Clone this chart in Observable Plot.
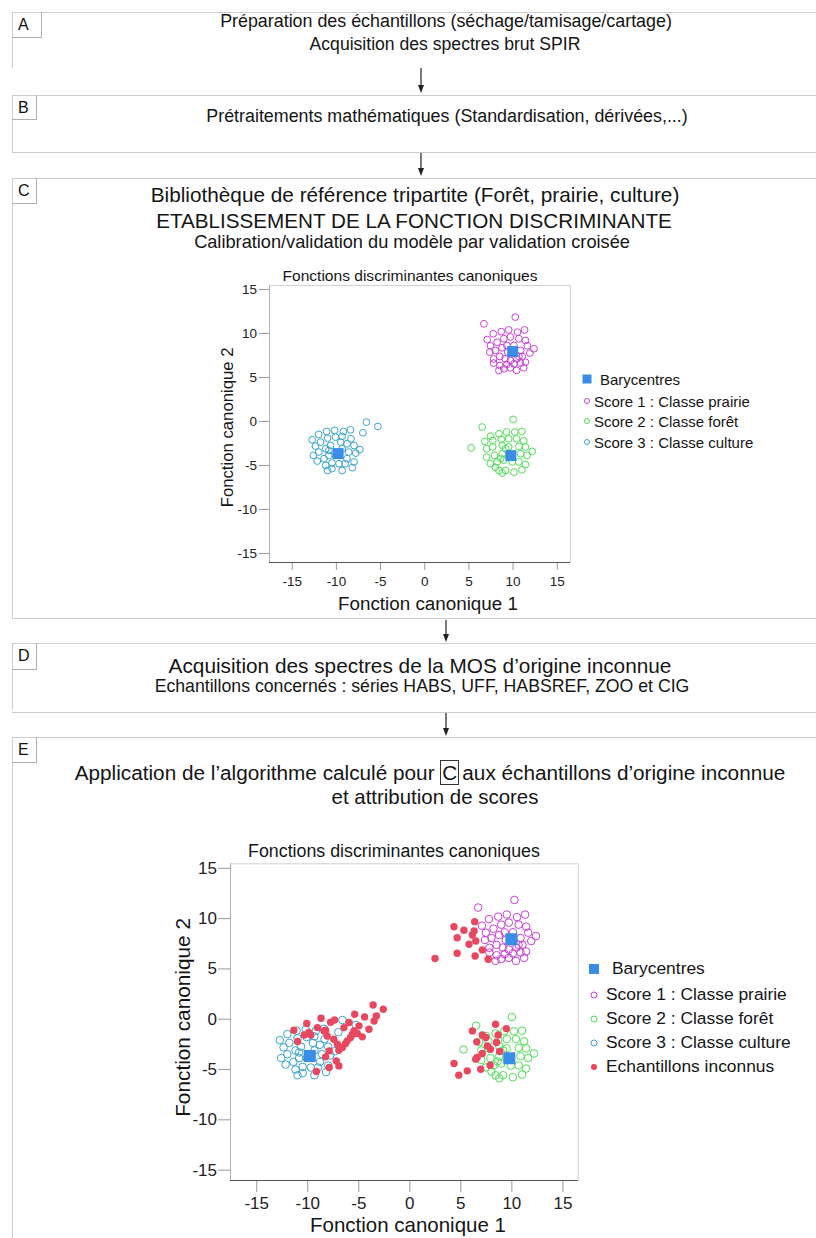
<!DOCTYPE html>
<html><head><meta charset="utf-8">
<script src="https://cdn.jsdelivr.net/npm/d3@7"></script>
<script src="https://cdn.jsdelivr.net/npm/@observablehq/plot@0.6"></script>
<style>
body{margin:0;background:#fff;font-family:"Liberation Sans",Arial,sans-serif;}
#page{position:relative;width:816px;height:1238px;overflow:hidden;background:#fff;}
.hl{position:absolute;height:0;border-top:1.5px solid #cdcdcd;}
.vl{position:absolute;width:0;border-left:1.5px solid #cdcdcd;}
.lab{position:absolute;box-sizing:border-box;border-right:1px solid #b0b0b0;border-bottom:1px solid #b0b0b0;color:#111;font-size:16px;line-height:1;}
.txt{position:absolute;white-space:nowrap;line-height:1;color:#151515;}
.boxc{border:1px solid #333;padding:0 1px;margin-right:3px;}
</style></head><body><div id="page"></div><script>
// ---------- DATA ----------
const prairie = [[6.7,11.1],[10.25,11.86],[7.07,9.3],[7.75,9.96],[8.66,10.2],[9.5,10.4],[10.5,10.15],[11.3,10.4],[7.45,8.6],[8.2,9.0],[8.96,9.4],[9.7,9.6],[10.66,9.4],[11.4,9.2],[11.6,8.6],[12.36,8.26],[7.37,7.88],[8.0,8.07],[8.75,8.37],[9.3,8.64],[10.85,8.07],[11.04,7.39],[11.9,7.77],[7.8,7.1],[8.5,7.39],[9.1,7.12],[9.7,6.93],[10.45,7.12],[11.4,6.74],[7.8,6.63],[8.5,6.36],[9.3,6.48],[10.1,6.55],[10.85,6.63],[8.96,5.98],[9.7,6.1],[10.4,5.8],[11.2,6.1],[8.4,5.8],[10.66,7.39],[10.1,8.64],[9.4,7.88]];
const foret = [[6.5,-0.64],[10.0,0.23],[5.26,-3.0],[7.45,-1.67],[8.4,-1.4],[9.26,-1.2],[10.2,-1.2],[11.0,-1.14],[6.8,-2.27],[7.7,-2.16],[8.66,-2.05],[9.5,-1.97],[10.4,-1.97],[11.2,-2.2],[7.0,-3.1],[7.7,-2.9],[8.77,-2.7],[9.5,-2.9],[10.66,-2.84],[11.4,-2.9],[12.17,-3.4],[7.0,-4.05],[7.9,-3.86],[8.77,-3.67],[10.85,-3.67],[11.6,-3.86],[7.45,-4.8],[8.2,-4.6],[8.96,-4.4],[9.9,-4.6],[10.66,-4.6],[11.4,-4.9],[8.4,-5.57],[9.15,-5.57],[10.1,-5.76],[11.0,-5.5],[8.77,-5.87],[8.0,-5.2],[9.15,-3.1],[8.6,-4.2]];
const culture = [[-6.6,-0.08],[-5.3,-0.57],[-7.0,-1.29],[-12.74,-2.08],[-12.0,-1.48],[-11.1,-1.14],[-10.2,-1.02],[-9.2,-1.14],[-8.4,-0.95],[-12.37,-2.8],[-11.8,-2.35],[-11.0,-1.9],[-10.1,-1.78],[-9.35,-1.7],[-8.35,-1.97],[-8.8,-2.54],[-8.0,-2.73],[-7.35,-3.18],[-12.6,-3.86],[-12.0,-3.48],[-11.2,-3.1],[-10.66,-2.73],[-9.5,-2.35],[-9.35,-3.1],[-8.6,-3.48],[-7.8,-3.6],[-12.17,-4.5],[-11.4,-4.24],[-10.85,-3.86],[-8.8,-4.24],[-8.0,-4.6],[-11.2,-5.0],[-10.5,-4.73],[-9.7,-4.8],[-9.0,-4.8],[-8.2,-5.25],[-11.0,-5.57],[-10.5,-5.36],[-9.35,-5.57],[-10.85,-3.3],[-10.1,-3.86]];
const inconnus = [
 [2.47,6.03],[4.33,9.2],[5.3,8.84],[4.64,8.1],[4.64,6.56],[6.36,9.7],[6.3,8.77],[6.13,8.38],[6.46,7.78],[5.8,7.45],[6.4,6.29],[7.1,6.89],[7.68,5.96],
 [-11.36,-1.09],[-11.0,-2.22],[-10.1,-0.43],[-10.35,-1.56],[-9.7,-1.56],[-9.05,-0.83],[-8.7,0.1],[-8.25,-1.09],[-7.76,-0.3],[-7.37,-0.07],[-8.1,-1.66],[-7.45,-1.99],[-7.1,-2.48],[-6.95,-3.08],[-7.9,-3.15],[-8.25,-3.74],[-7.2,-4.14],[-6.95,-4.64],[-7.9,-4.8],[-9.15,-5.2],[-6.45,-0.83],[-5.96,-0.33],[-5.4,0.5],[-5.47,-1.16],[-5.8,-1.82],[-6.3,-2.42],[-4.98,-0.66],[-4.43,0.23],[-4.0,-0.99],[-4.66,-1.75],[-3.5,-0.17],[-3.27,0.33],[-3.6,1.42],[-2.6,0.99],[-5.63,-1.49],[-6.13,-2.15],[-5.15,-1.42],[-6.6,-2.81],[-8.4,-1.16],[-9.9,-1.32],
 [8.4,-0.5],[9.46,-0.93],[6.13,-1.16],[7.1,-1.56],[7.45,-1.82],[8.66,-1.56],[6.56,-2.25],[7.6,-2.65],[8.5,-2.32],[7.9,-2.98],[8.8,-3.21],[7.1,-3.41],[6.6,-3.8],[6.46,-3.97],[7.87,-4.57],[6.95,-4.97],[4.33,-4.4],[5.63,-5.13],[4.8,-5.56]];
const barycentres = [[9.95,7.95],[9.75,-3.88],[-9.8,-3.65]];
const xTicks = [-15,-10,-5,0,5,10,15];
const yTicks = [-15,-10,-5,0,5,10,15];
const xDomain = [-17.57,16.5];
const yDomain = [-16.03,15.45];
const legendLabels = ["Barycentres","Score 1 : Classe prairie","Score 2 : Classe forêt","Score 3 : Classe culture","Echantillons inconnus"];
const chartTitle = "Fonctions discriminantes canoniques";
const xLabel = "Fonction canonique 1", yLabel = "Fonction canonique 2";

const colPrairie = "#c93fd8", colForet = "#4fdc55", colCulture = "#3aa3cf", colBary = "#3a8de6", colInconnu = "#e8475f";

const page = document.getElementById("page");

// ---------- boxes ----------
function hl(x, y, w){const d=document.createElement("div");d.className="hl";d.style.left=x+"px";d.style.top=y+"px";d.style.width=w+"px";page.appendChild(d);}
function vl(x, y, h){const d=document.createElement("div");d.className="vl";d.style.left=x+"px";d.style.top=y+"px";d.style.height=h+"px";page.appendChild(d);}
function lab(t, x, y, w, h){const d=document.createElement("div");d.className="lab";d.textContent=t;Object.assign(d.style,{left:x+"px",top:y+"px",width:w+"px",height:h+"px",paddingLeft:"6px",paddingTop:"5px"});page.appendChild(d);}
hl(12,12,804); vl(12,12,56); lab("A",12,12,30,26);
hl(12,95,804); vl(12,95,57); hl(12,152,804); lab("B",12,95,25,25);
hl(12,178,804); vl(12,178,440); hl(12,618,804); lab("C",12,178,25,26);
hl(12,643,804); vl(12,643,67); hl(12,712,804); lab("D",12,643,25,27);
hl(12,737,804); vl(12,737,501); lab("E",12,737,25,26);

// arrows
const ns="http://www.w3.org/2000/svg";
const ov=document.createElementNS(ns,"svg");
ov.setAttribute("width",816);ov.setAttribute("height",1238);
ov.style.position="absolute";ov.style.left="0";ov.style.top="0";
[[421,68,93],[421,153,176],[446,620,642],[446,713,736]].forEach(([x,y0,y1])=>{
  const l=document.createElementNS(ns,"line");
  l.setAttribute("x1",x);l.setAttribute("x2",x);l.setAttribute("y1",y0);l.setAttribute("y2",y1-6);
  l.setAttribute("stroke","#222");l.setAttribute("stroke-width","1.2");ov.appendChild(l);
  const p=document.createElementNS(ns,"path");
  p.setAttribute("d",`M${x-3},${y1-8}L${x+3},${y1-8}L${x},${y1}Z`);p.setAttribute("fill","#222");ov.appendChild(p);
});
page.appendChild(ov);

// ---------- text ----------
function place(html, cx, cy, w, rotate){
  const el=document.createElement("div");el.className="txt";el.innerHTML=html;page.appendChild(el);
  el.style.fontSize="20px";
  const w0=el.getBoundingClientRect().width;
  const fs=20*w/w0; el.style.fontSize=fs+"px";
  const r=el.getBoundingClientRect();
  el.style.left=(cx-r.width/2)+"px"; el.style.top=(cy-r.height/2)+"px";
  if(rotate){el.style.transform="rotate(-90deg)";el.style.transformOrigin="50% 50%";}
  return el;
}
place("Préparation des échantillons (séchage/tamisage/cartage)",446,22,452);
place("Acquisition des spectres brut SPIR",445,45,271);
place("Prétraitements mathématiques (Standardisation, dérivées,...)",447,117,482);
place("Bibliothèque de référence tripartite (Forêt, prairie, culture)",415,195,529);
place("ETABLISSEMENT DE LA FONCTION DISCRIMINANTE",414,221,516);
place("Calibration/validation du modèle par validation croisée",412,242,436);
place("Acquisition des spectres de la MOS d’origine inconnue",420,666,503);
place("Echantillons concernés : séries HABS, UFF, HABSREF, ZOO et CIG",422,687,535);
place("Application de l’algorithme calculé pour <span class='boxc'>C</span>aux échantillons d’origine inconnue",430,773,711);
place("et attribution de scores",435,797,207);

place(chartTitle,410,276,255);
place(xLabel,428,604,180);
place(yLabel,228,427,160,true);
place(chartTitle,394,852,292);
place(xLabel,408,1225,196);
place(yLabel,183,1017,199,true);

// ---------- charts ----------
function chart(cfg){
  const marks=[
    Plot.frame({stroke:"#d2d2d2"}),
    Plot.ruleX([xDomain[0]],{stroke:"#b0b0b0"}),
    Plot.ruleY([yDomain[0]],{stroke:"#555"}),
    Plot.dot(prairie,{x:d=>d[0],y:d=>d[1],r:cfg.r,fill:"none",stroke:colPrairie,strokeWidth:1}),
    Plot.dot(foret,{x:d=>d[0],y:d=>d[1],r:cfg.r,fill:"none",stroke:colForet,strokeWidth:1}),
    Plot.dot(culture,{x:d=>d[0],y:d=>d[1],r:cfg.r,fill:"none",stroke:colCulture,strokeWidth:1})
  ];
  if(cfg.unknown) marks.push(Plot.dot(inconnus,{x:d=>d[0],y:d=>d[1],r:cfg.ru,fill:colInconnu,stroke:"none"}));
  marks.push(Plot.dot(barycentres,{x:d=>d[0],y:d=>d[1],symbol:"square",r:cfg.rb,fill:colBary,stroke:"none"}));
  const svg=Plot.plot({
    width:cfg.width,height:cfg.height,
    marginLeft:cfg.ml,marginRight:cfg.mr,marginTop:cfg.mt,marginBottom:cfg.mb,
    x:{domain:xDomain,ticks:xTicks,tickSize:cfg.xts,tickPadding:cfg.xtp,tickFormat:d=>String(d),label:null},
    y:{domain:yDomain,ticks:yTicks,tickSize:cfg.yts,tickPadding:cfg.ytp,tickFormat:d=>String(d),label:null},
    style:{fontFamily:"'Liberation Sans',Arial,sans-serif",fontSize:cfg.fs+"px",color:"#222",background:"transparent",overflow:"visible"},
    marks
  });
  svg.style.position="absolute";svg.style.left=cfg.left+"px";svg.style.top=cfg.top+"px";
  page.appendChild(svg);
  d3.select(svg).selectAll('[aria-label="x-axis tick"], [aria-label="y-axis tick"]').attr("stroke","#9a9a9a");
  d3.select(svg).selectAll('[aria-label="x-axis tick"] path, [aria-label="y-axis tick"] path').attr("stroke","#9a9a9a");
}
chart({left:200,top:268,width:380,height:330,ml:69,mr:10,mt:17,mb:36,xts:8,xtp:6,yts:10,ytp:2.5,fs:13.5,r:3.4,rb:6.2,unknown:false});
chart({left:150,top:855,width:440,height:365,ml:80,mr:12.3,mt:8.3,mb:40,xts:12,xtp:4,yts:12,ytp:1.5,fs:17,r:3.8,ru:3.7,rb:6.8,unknown:true});

// ---------- legends ----------
function legend(items, ys, xm, xt, xtb, fs, sq, rc){
  items.forEach((t,i)=>{
    const s=document.createElementNS(ns,"svg");s.setAttribute("width",20);s.setAttribute("height",20);
    s.style.position="absolute";s.style.left=(xm-10)+"px";s.style.top=(ys[i]-10)+"px";
    let m;
    if(i===0){m=document.createElementNS(ns,"rect");m.setAttribute("x",10-sq/2);m.setAttribute("y",10-sq/2);m.setAttribute("width",sq);m.setAttribute("height",sq);m.setAttribute("fill",colBary);}
    else{m=document.createElementNS(ns,"circle");m.setAttribute("cx",10);m.setAttribute("cy",10);m.setAttribute("r",rc);
      const c=[null,colPrairie,colForet,colCulture,colInconnu][i];
      if(i===4){m.setAttribute("fill",c);}else{m.setAttribute("fill","none");m.setAttribute("stroke",c);m.setAttribute("stroke-width",1);}}
    s.appendChild(m);page.appendChild(s);
    const el=document.createElement("div");el.className="txt";el.textContent=t;el.style.fontSize=fs+"px";
    page.appendChild(el);
    const r=el.getBoundingClientRect();
    el.style.left=(i===0?xtb:xt)+"px";el.style.top=(ys[i]-r.height/2)+"px";
  });
}
legend(legendLabels.slice(0,4),[379,401,421,442],586.5,594,600,15,9,2.5);
legend(legendLabels,[969,995,1019,1043,1067],594,606,612,17.4,10,3);
</script></body></html>
